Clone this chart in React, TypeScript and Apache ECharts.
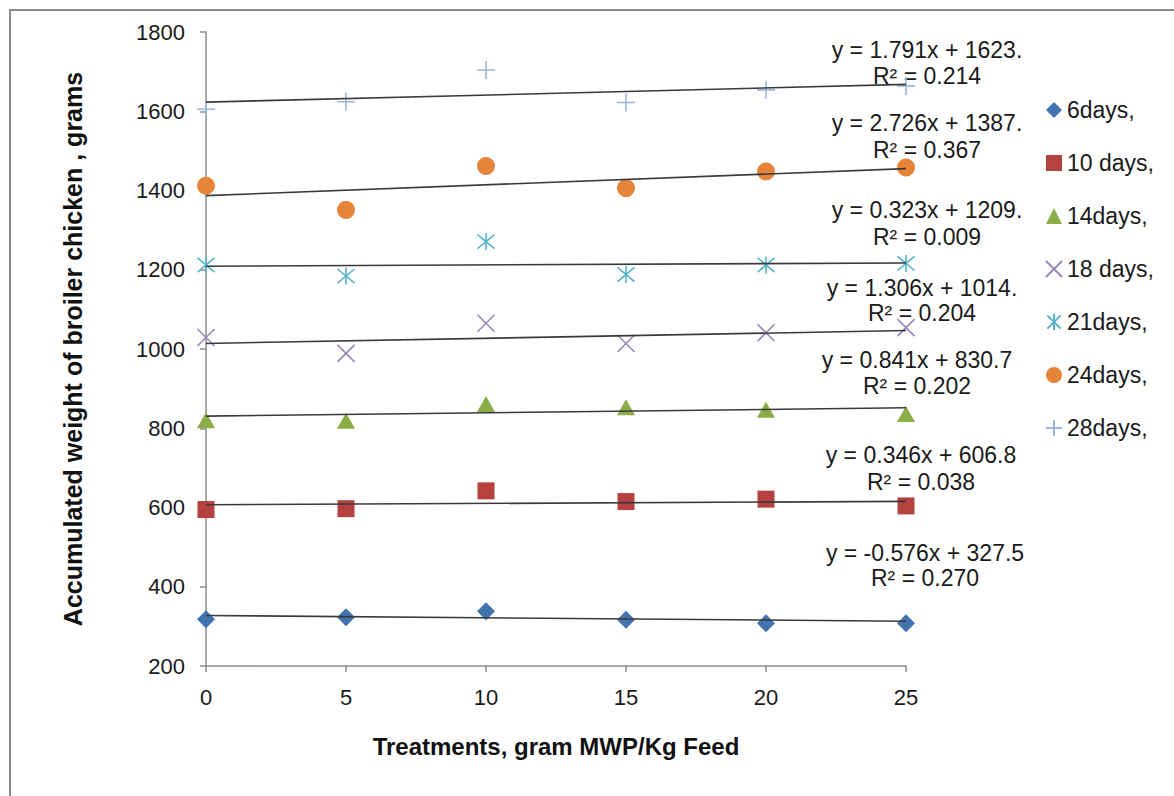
import React, { useEffect, useRef } from "react";
import * as echarts from "echarts";

const xValues = [0, 5, 10, 15, 20, 25];
const xTicks = [0, 5, 10, 15, 20, 25];
const seriesNames = ["6days,", "10 days,", "14days,", "18 days,", "21days,", "24days,", "28days,"];
const days6 = [318, 323, 338, 317, 308, 308];
const days10 = [595, 597, 642, 615, 621, 604];
const days14 = [820, 819, 861, 853, 847, 836];
const days18 = [1029, 989, 1065, 1014, 1041, 1054];
const days21 = [1212, 1184, 1271, 1188, 1212, 1216];
const days24 = [1412, 1351, 1462, 1406, 1448, 1458];
const days28 = [1605, 1624, 1704, 1622, 1654, 1664];
const trendSlopes = [-0.576, 0.346, 0.841, 1.306, 0.323, 2.726, 1.791];
const trendIntercepts = [327.5, 606.8, 830.7, 1014, 1209, 1387, 1623];
const equationTexts = [
  "y = -0.576x + 327.5",
  "y = 0.346x + 606.8",
  "y = 0.841x + 830.7",
  "y = 1.306x + 1014.",
  "y = 0.323x + 1209.",
  "y = 2.726x + 1387.",
  "y = 1.791x + 1623.",
];
const r2Texts = ["R² = 0.270", "R² = 0.038", "R² = 0.202", "R² = 0.204", "R² = 0.009", "R² = 0.367", "R² = 0.214"];
const yAxisTitle = "Accumulated weight of broiler chicken , grams";
const xAxisTitle = "Treatments, gram MWP/Kg Feed";

// layout (not data)
const labelPos = [
  [925, 553, 578],
  [921, 455, 482],
  [917, 360, 386],
  [922, 288, 313],
  [927, 210, 237],
  [927, 123, 150],
  [927, 50, 76],
];

const FONT = "'Liberation Sans', Arial, sans-serif";
const colors = ["#4373AE", "#B5423F", "#8AAE45", "#9A86B8", "#55B4CC", "#E6853A", "#9CB5DD"];
const symbols = [
  "diamond",
  "rect",
  "triangle",
  "path://M0,0L10,10M10,0L0,10",
  "path://M0,0L10,10M10,0L0,10M5,-1L5,11",
  "circle",
  "path://M0,5L10,5M5,0L5,10",
];
const symbolSizes = [18, 17, [18, 16], 17, 17, 18, 18];
const strokeOnly = [false, false, false, true, true, false, true];

export default function App() {
  const ref = useRef<HTMLDivElement>(null);
  useEffect(() => {
    if (!ref.current) return;
    const chart = echarts.init(ref.current, null, { renderer: "svg" });
    const allData = [days6, days10, days14, days18, days21, days24, days28];
    const scatterSeries = allData.map((vals, i) => ({
      name: seriesNames[i],
      type: "scatter",
      symbol: symbols[i],
      symbolSize: symbolSizes[i],
      data: vals.map((v, j) => [xValues[j], v]),
      itemStyle: strokeOnly[i]
        ? { color: "rgba(0,0,0,0)", borderColor: colors[i], borderWidth: 1.6, opacity: 1 }
        : { color: colors[i], opacity: 1 },
      z: 3,
    }));
    const trendSeries = trendSlopes.map((m, i) => ({
      name: "trend" + i,
      type: "line",
      data: [
        [xTicks[0], trendIntercepts[i] + m * xTicks[0]],
        [xTicks[xTicks.length - 1], trendIntercepts[i] + m * xTicks[xTicks.length - 1]],
      ],
      symbol: "none",
      lineStyle: { color: "#3a3a3a", width: 1.6 },
      z: 4,
      silent: true,
    }));
    const graphics: any[] = [
      {
        type: "rect",
        shape: { x: 10, y: 10, width: 1300, height: 900 },
        style: { fill: "none", stroke: "#8c8c8c", lineWidth: 2 },
        z: -1,
      },
      {
        type: "text",
        x: 73,
        y: 349,
        rotation: Math.PI / 2,
        style: {
          text: yAxisTitle,
          font: `bold 25px ${FONT}`,
          fill: "#111",
          textAlign: "center",
          textVerticalAlign: "middle",
        },
      },
      {
        type: "text",
        x: 556,
        y: 746,
        style: {
          text: xAxisTitle,
          font: `bold 24px ${FONT}`,
          fill: "#111",
          textAlign: "center",
          textVerticalAlign: "middle",
        },
      },
    ];
    labelPos.forEach((p, i) => {
      graphics.push({
        type: "text",
        x: p[0],
        y: p[1],
        style: { text: equationTexts[i], font: `23px ${FONT}`, fill: "#1a1a1a", textAlign: "center", textVerticalAlign: "middle" },
      });
      graphics.push({
        type: "text",
        x: p[0],
        y: p[2],
        style: { text: r2Texts[i], font: `23px ${FONT}`, fill: "#1a1a1a", textAlign: "center", textVerticalAlign: "middle" },
      });
    });

    chart.setOption({
      animation: false,
      backgroundColor: "#fff",
      grid: { left: 206, right: 268, top: 32, bottom: 130, containLabel: false },
      xAxis: {
        type: "value",
        min: 0,
        max: 25,
        interval: 5,
        axisLine: { show: true, lineStyle: { color: "#8c8c8c", width: 1.5 } },
        axisTick: { show: true, length: 6, lineStyle: { color: "#8c8c8c", width: 1.5 } },
        splitLine: { show: false },
        axisLabel: { fontSize: 22, fontFamily: FONT, color: "#1a1a1a", margin: 20 },
      },
      yAxis: {
        type: "value",
        min: 200,
        max: 1800,
        interval: 200,
        axisLine: { show: true, lineStyle: { color: "#8c8c8c", width: 1.5 } },
        axisTick: { show: true, length: 6, lineStyle: { color: "#8c8c8c", width: 1.5 } },
        splitLine: { show: false },
        axisLabel: { fontSize: 22, fontFamily: FONT, color: "#1a1a1a", margin: 21, formatter: (v: number) => String(v) },
      },
      legend: {
        data: seriesNames,
        orient: "vertical",
        left: 1045,
        top: 98,
        padding: 0,
        itemWidth: 16,
        itemHeight: 16,
        itemGap: 29,
        textStyle: { fontSize: 23, fontFamily: FONT, color: "#1a1a1a", lineHeight: 24 },
      },
      graphic: graphics,
      series: [...scatterSeries, ...trendSeries],
    });
    return () => chart.dispose();
  }, []);
  return <div ref={ref} style={{ position: "fixed", left: 0, top: 0, width: 1174, height: 796 }} />;
}
